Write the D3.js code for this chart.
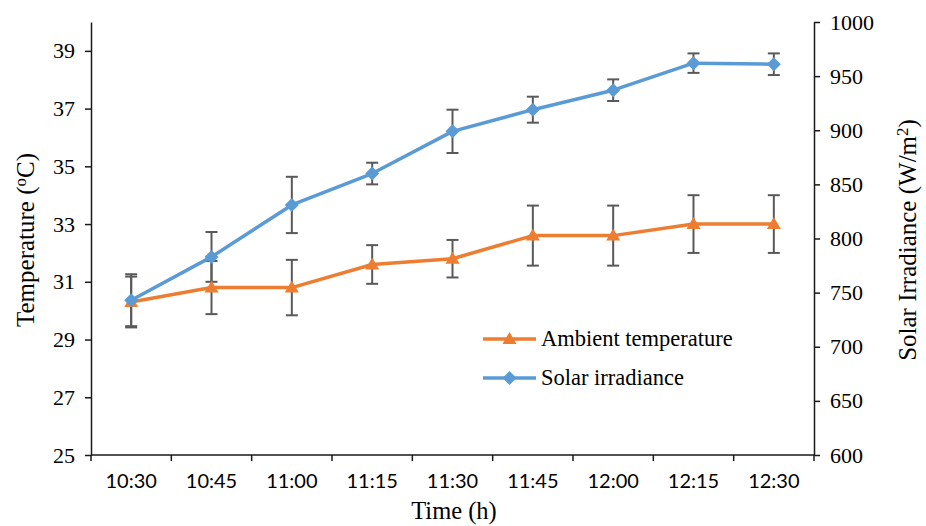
<!DOCTYPE html>
<html>
<head>
<meta charset="utf-8">
<script src="https://cdn.jsdelivr.net/npm/d3@7"></script>
<style>
  html, body { margin: 0; padding: 0; background: #fff; }
  svg { display: block; }
</style>
</head>
<body>
<svg id="chart" width="926" height="526"></svg>
<script>
// Measurement times (x categories)
const times = ["10:30", "10:45", "11:00", "11:15", "11:30", "11:45", "12:00", "12:15", "12:30"];

// Ambient temperature (°C) and its error (±)
const tempValues = [30.3, 30.8, 30.8, 31.6, 31.8, 32.6, 32.6, 33.0, 33.0];
const tempErrors = [0.88, 0.92, 0.96, 0.67, 0.65, 1.04, 1.04, 1.0, 1.0];

// Solar irradiance (W/m²) and its error (±)
const solarValues = [743, 783, 831, 860, 899, 919, 937, 962, 961];
const solarErrors = [24, 23, 26, 10, 20, 12, 10, 9, 10];

// Axis ticks
const tempTicks = [25, 27, 29, 31, 33, 35, 37, 39];
const solarTicks = [600, 650, 700, 750, 800, 850, 900, 950, 1000];

const ORANGE = "#ED7D31";
const BLUE = "#5B9BD5";
const ERR = "#595959";
const AXIS = "#1a1a1a";
const SERIF = "'Liberation Serif', 'Times New Roman', serif";
const SANS = "Lato, 'Open Sans', sans-serif";

const svg = d3.select("#chart");
const plotLeft = 91, plotRight = 814, plotTop = 22, plotBottom = 455;

const x = d3.scaleBand().domain(times).range([plotLeft, plotRight]).padding(0);
const yL = d3.scaleLinear().domain([25, 40]).range([plotBottom, plotTop]);
const yR = d3.scaleLinear().domain([600, 1000]).range([plotBottom, plotTop]);
const cx = d => x(d) + x.bandwidth() / 2;

// Left axis
const gL = svg.append("g").attr("transform", `translate(${plotLeft},0)`)
  .call(d3.axisLeft(yL).tickValues(tempTicks).tickFormat(d3.format("d"))
    .tickSize(6).tickPadding(10).tickSizeOuter(0));
// Right axis
const gR = svg.append("g").attr("transform", `translate(${plotRight},0)`)
  .call(d3.axisRight(yR).tickValues(solarTicks).tickFormat(d3.format("d"))
    .tickSize(6).tickPadding(10).tickSizeOuter(0));
[gL, gR].forEach(g => {
  g.selectAll("text").attr("font-family", SERIF).attr("font-size", 22).attr("fill", "#000");
  g.selectAll("path, line").attr("stroke", AXIS).attr("stroke-width", 1.5);
});

// Bottom axis: labels centred in each band, ticks on band boundaries
const gB = svg.append("g").attr("transform", `translate(0,${plotBottom})`)
  .call(d3.axisBottom(x).tickSize(0).tickPadding(19));
gB.select(".domain").remove();
gB.selectAll("text").attr("font-family", SANS).attr("font-size", 20).attr("fill", "#000");
const bounds = times.map(t => x(t)).concat([plotRight]);
svg.append("line").attr("x1", plotLeft).attr("x2", plotRight).attr("y1", plotBottom).attr("y2", plotBottom)
  .attr("stroke", AXIS).attr("stroke-width", 1.5);
svg.append("g").selectAll("line").data(bounds).join("line")
  .attr("x1", d => d).attr("x2", d => d).attr("y1", plotBottom).attr("y2", plotBottom + 6)
  .attr("stroke", AXIS).attr("stroke-width", 1.5);

// Error bars
function errorBars(values, errors, scale) {
  const g = svg.append("g").attr("stroke", ERR).attr("stroke-width", 2).attr("fill", "none");
  times.forEach((t, i) => {
    const xc = cx(t), y1 = scale(values[i] + errors[i]), y2 = scale(values[i] - errors[i]);
    g.append("line").attr("x1", xc).attr("x2", xc).attr("y1", y1).attr("y2", y2);
    g.append("line").attr("x1", xc - 6).attr("x2", xc + 6).attr("y1", y1).attr("y2", y1);
    g.append("line").attr("x1", xc - 6).attr("x2", xc + 6).attr("y1", y2).attr("y2", y2);
  });
}
errorBars(tempValues, tempErrors, yL);
errorBars(solarValues, solarErrors, yR);

const triangle = (px, py) => `M${px - 7},${py + 5}L${px + 7},${py + 5}L${px},${py - 7}Z`;
const diamond = (px, py) => `M${px},${py - 7}L${px + 7},${py}L${px},${py + 7}L${px - 7},${py}Z`;

function series(values, scale, color, shape) {
  const line = d3.line().x((d, i) => cx(times[i])).y(d => scale(d));
  svg.append("path").datum(values).attr("d", line)
    .attr("fill", "none").attr("stroke", color).attr("stroke-width", 3.5).attr("stroke-linejoin", "round");
  svg.append("g").selectAll("path").data(values).join("path")
    .attr("d", (d, i) => shape(cx(times[i]), scale(d))).attr("fill", color);
}
series(tempValues, yL, ORANGE, triangle);
series(solarValues, yR, BLUE, diamond);

// Legend
const legend = [
  { label: "Ambient temperature", color: ORANGE, shape: triangle, y: 339 },
  { label: "Solar irradiance", color: BLUE, shape: diamond, y: 378 }
];
legend.forEach(l => {
  svg.append("line").attr("x1", 483).attr("x2", 536).attr("y1", l.y).attr("y2", l.y)
    .attr("stroke", l.color).attr("stroke-width", 3.5);
  svg.append("path").attr("d", l.shape(509.5, l.y)).attr("fill", l.color);
  svg.append("text").attr("x", 541).attr("y", l.y).attr("dy", "0.33em")
    .attr("font-family", SERIF).attr("font-size", 22.5).attr("fill", "#000").text(l.label);
});

// Axis titles
svg.append("text").attr("x", 454).attr("y", 519).attr("text-anchor", "middle")
  .attr("font-family", SERIF).attr("font-size", 24.5).attr("fill", "#000").text("Time (h)");

const tL = svg.append("text").attr("transform", "translate(34,240) rotate(-90)")
  .attr("text-anchor", "middle").attr("font-family", SERIF).attr("font-size", 25).attr("fill", "#000");
tL.append("tspan").text("Temperature (");
tL.append("tspan").attr("font-size", 17).attr("dy", -8).text("o");
tL.append("tspan").attr("dy", 8).text("C)");

const tR = svg.append("text").attr("transform", "translate(916,240) rotate(-90)")
  .attr("text-anchor", "middle").attr("font-family", SERIF).attr("font-size", 25).attr("fill", "#000");
tR.append("tspan").text("Solar Irradiance (W/m");
tR.append("tspan").attr("font-size", 17).attr("dy", -8).text("2");
tR.append("tspan").attr("dy", 8).text(")");
</script>
</body>
</html>
